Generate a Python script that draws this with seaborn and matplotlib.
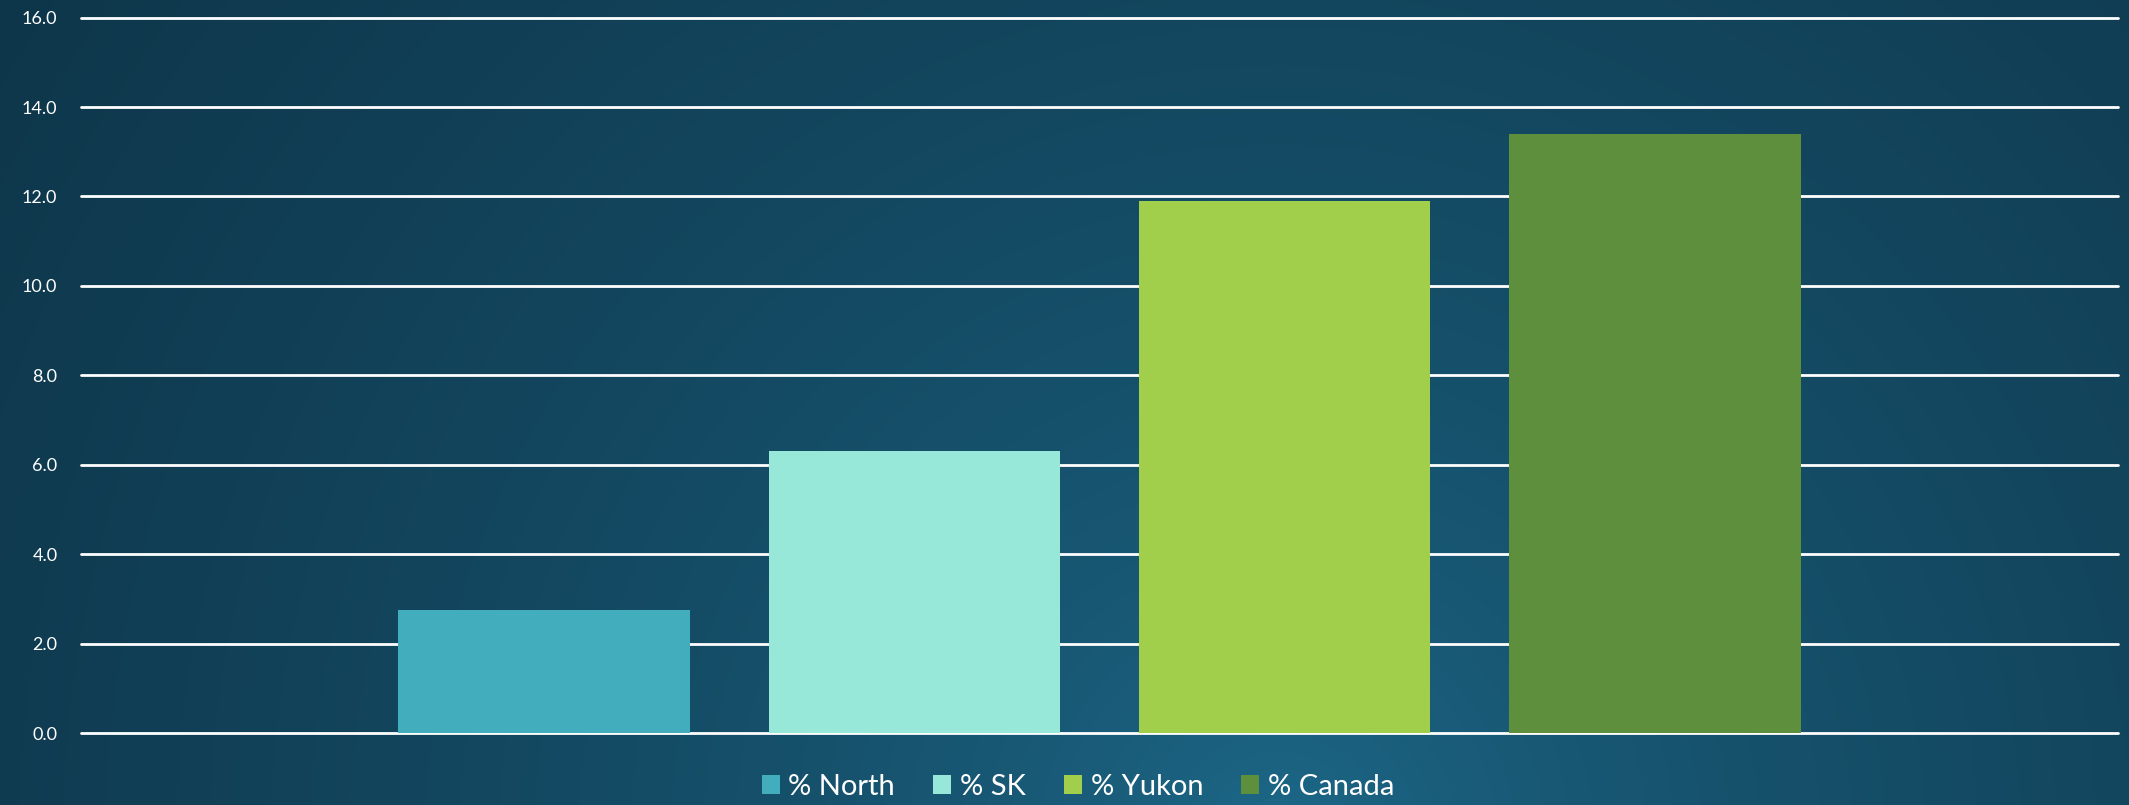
import numpy as np
import pandas as pd
import matplotlib
matplotlib.use("Agg")
import matplotlib.pyplot as plt
import seaborn as sns
from matplotlib.colors import to_rgb
from matplotlib.patches import Patch

# ---- data ----
series = ["% North", "% SK", "% Yukon", "% Canada"]
values = [2.75, 6.3, 11.9, 13.4]
colors = ["#41adbd", "#97e8d8", "#a2cf4b", "#5e8f3c"]
yticks = [0, 2, 4, 6, 8, 10, 12, 14, 16]

sns.set_theme(style="white")
plt.rcParams['font.family'] = ['Lato', 'DejaVu Sans']

W, H = 2129, 805
fig = plt.figure(figsize=(W / 100, H / 100), dpi=100)

# background radial gradient
bg = fig.add_axes([0, 0, 1, 1], zorder=-10)
bg.axis('off')
yy, xx = np.mgrid[0:H, 0:W]
cx, cy = 0.6 * W, 1.05 * H
d = np.sqrt((xx - cx) ** 2 + (yy - cy) ** 2)
t = (d / d.max()) ** 0.6
c0 = np.array(to_rgb("#1e6c8d"))
c1 = np.array(to_rgb("#0e364a"))
img = c0[None, None, :] * (1 - t[..., None]) + c1[None, None, :] * t[..., None]
bg.imshow(img, aspect='auto', extent=[0, 1, 0, 1])
bg.set_xlim(0, 1)
bg.set_ylim(0, 1)

ax = fig.add_axes([81 / W, 1 - 733 / H, 2037 / W, (733 - 17.6) / H])
ax.patch.set_alpha(0)
df = pd.DataFrame({"series": series, "value": values})
sns.barplot(data=df, x="series", y="value", hue="series", palette=colors,
            width=0.787, saturation=1, ax=ax, legend=False,
            linewidth=0, edgecolor='none')
ax.set_xlim(-1.25, 4.25)
ax.set_ylim(0, 16)
ax.set_yticks(yticks)
ax.set_yticklabels([f"{v:.1f}" for v in yticks], color="white", fontsize=13)
ax.set_xticks([])
ax.set_xlabel("")
ax.set_ylabel("")
ax.tick_params(axis='y', length=0, pad=17)
for s in ax.spines.values():
    s.set_visible(False)
ax.set_axisbelow(True)
ax.yaxis.grid(True, color="white", linewidth=2)
for gl in ax.get_ygridlines():
    gl.set_clip_on(False)

handles = [Patch(facecolor=c, edgecolor='none', label=s) for s, c in zip(series, colors)]
leg = fig.legend(handles=handles, loc='center', bbox_to_anchor=(1078 / W, 1 - 787 / H),
                 ncol=4, frameon=False, fontsize=21, handlelength=0.62, handleheight=0.62,
                 handletextpad=0.3, columnspacing=1.3)
for txt in leg.get_texts():
    txt.set_color("white")

fig.savefig("out.png", dpi=100)
